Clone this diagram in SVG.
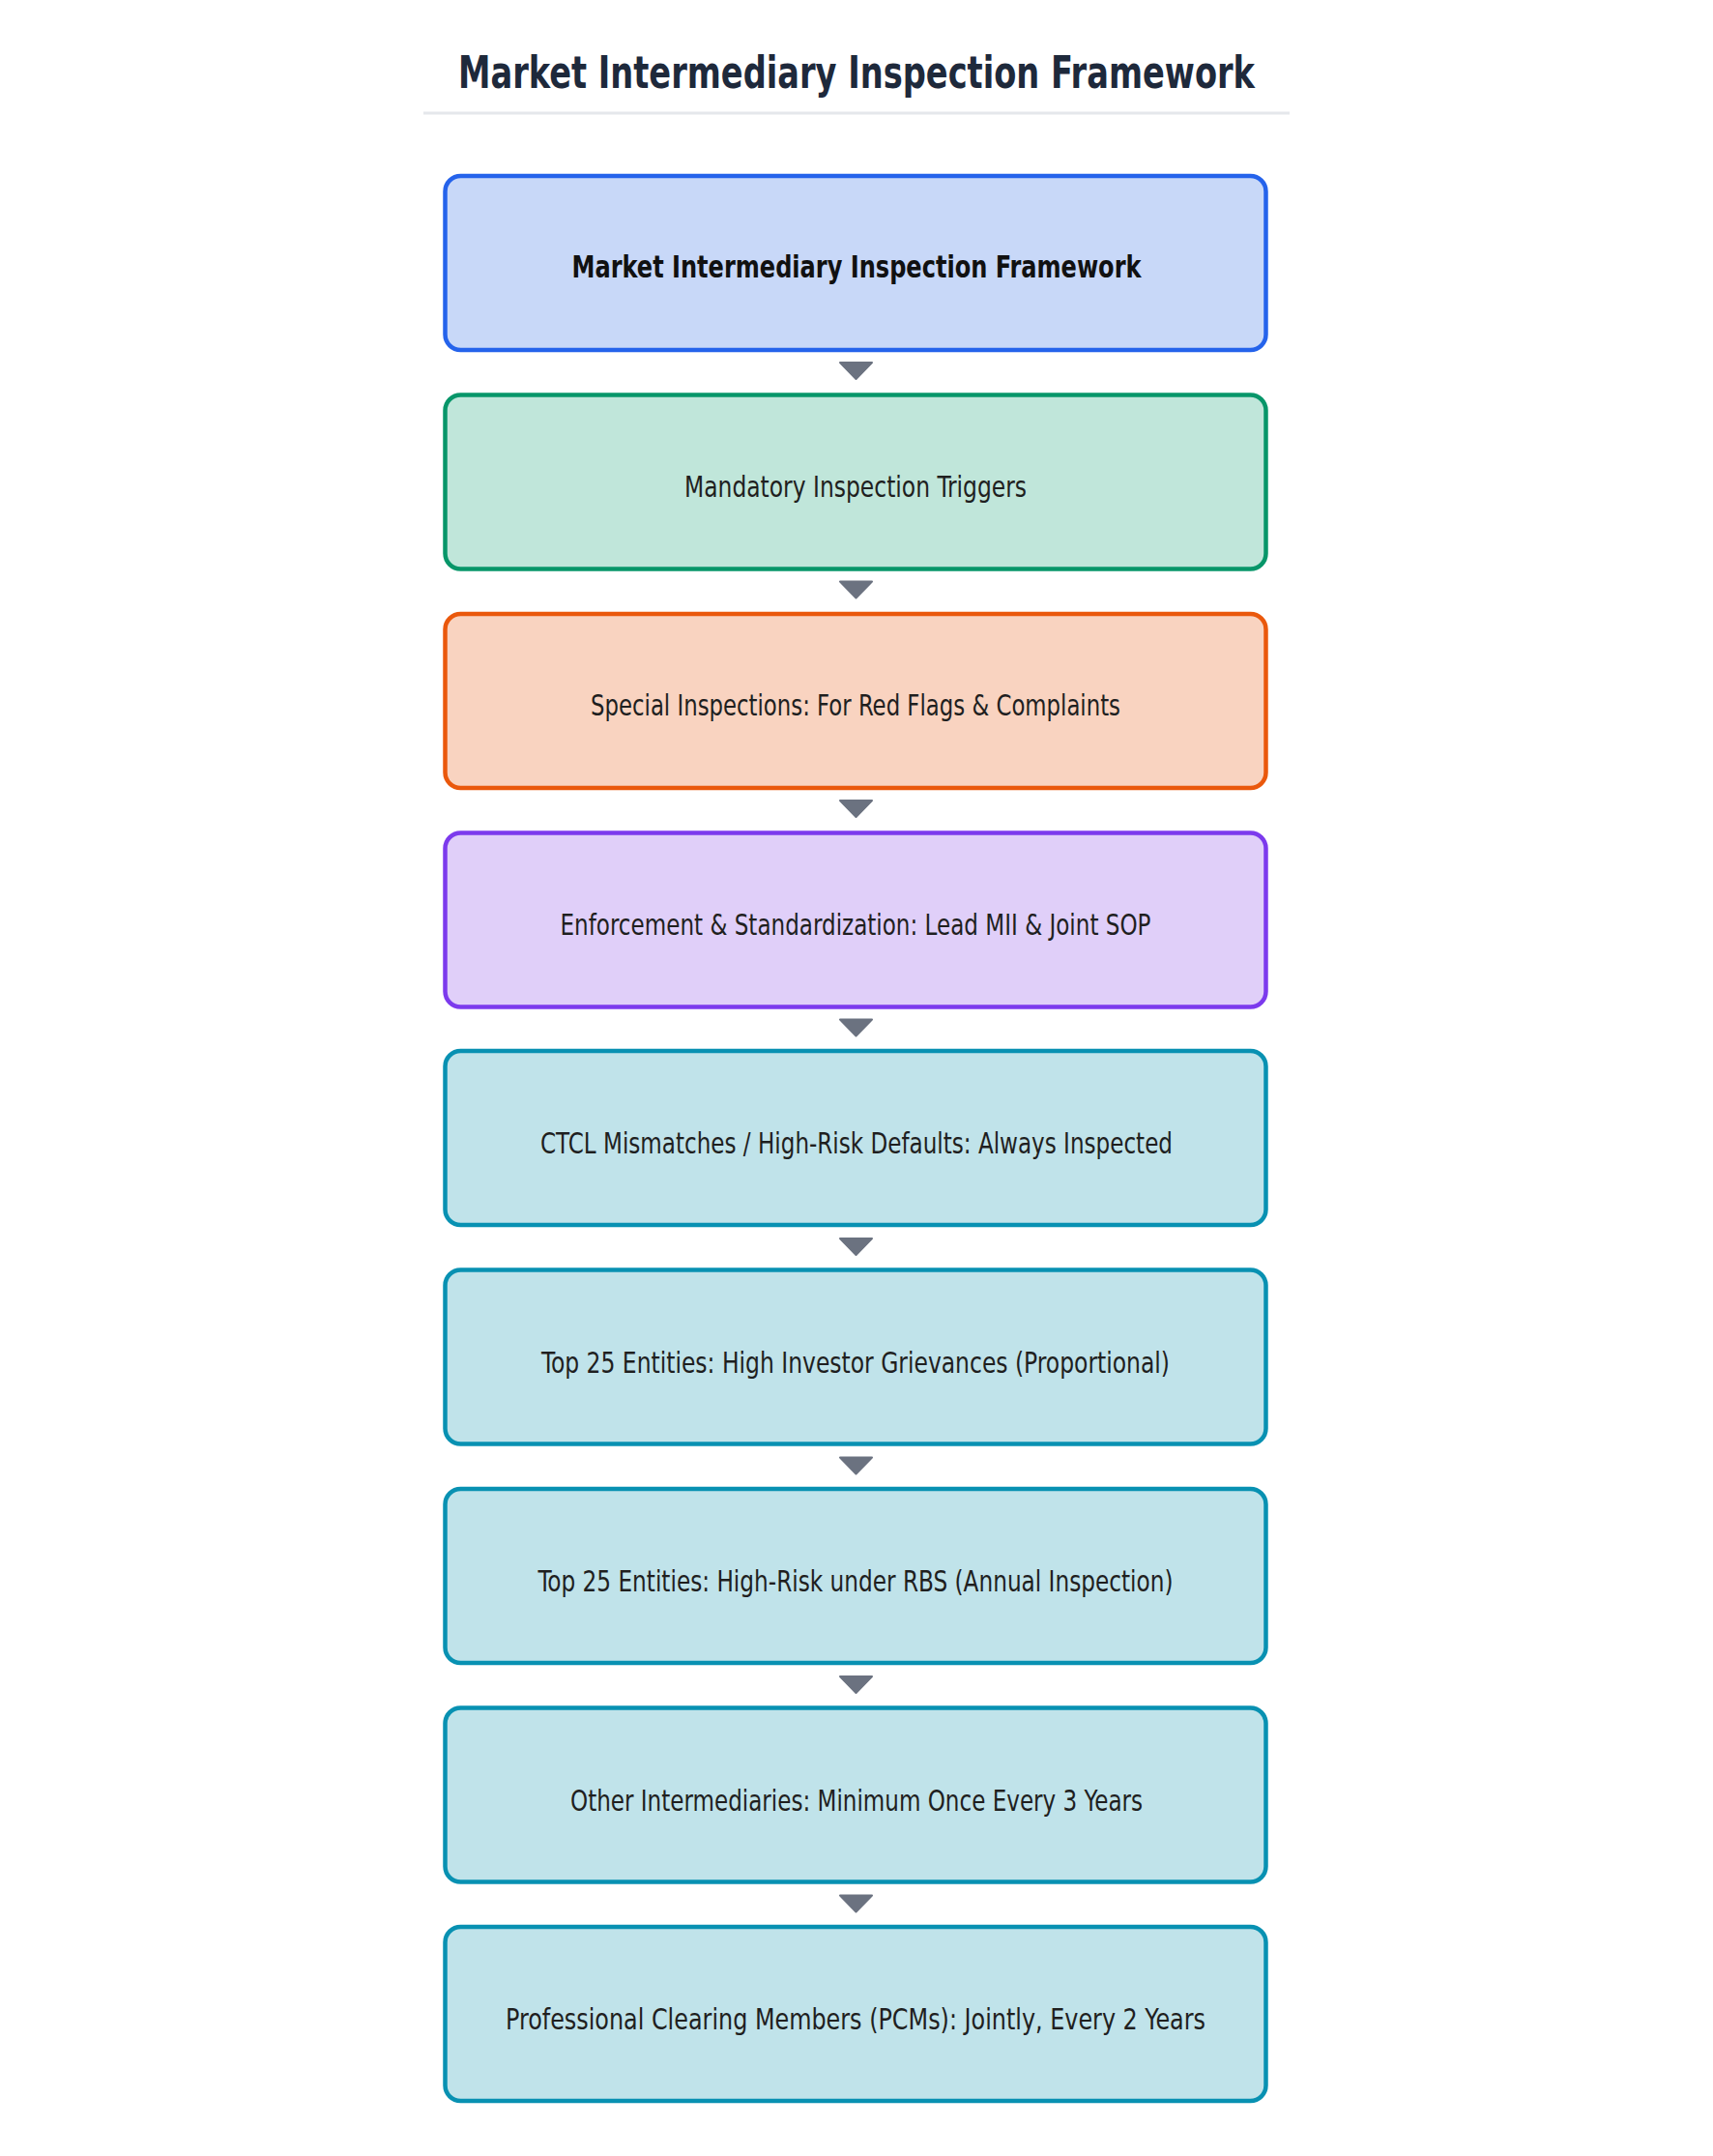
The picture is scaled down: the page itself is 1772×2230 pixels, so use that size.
<svg xmlns="http://www.w3.org/2000/svg" width="1772" height="2230" viewBox="0 0 1772 2230">
<style>
.box{stroke-width:4.5}
.t{font-family:"Liberation Sans Narrow","DejaVu Sans Condensed","Liberation Sans",sans-serif;font-size:30px;fill:#1f1f1f;text-anchor:middle}
.b{font-weight:bold;font-size:32px;fill:#111}
.title{font-family:"Liberation Sans Narrow","DejaVu Sans Condensed","Liberation Sans",sans-serif;font-weight:bold;font-size:47px;fill:#1e293b;text-anchor:middle}
.arr{fill:#6b7280;stroke:#6b7280;stroke-width:2;stroke-linejoin:round}
.c1{fill:#c8d8f8;stroke:#2563eb}
.c2{fill:#c0e6da;stroke:#079669}
.c3{fill:#f9d3c0;stroke:#ea580c}
.c4{fill:#e0cff9;stroke:#7c3aed}
.c5{fill:#c0e3ea;stroke:#0891b2}
</style>
<rect width="1772" height="2230" fill="#ffffff"/>
<g id="title">
<text class="title" x="886" y="91" textLength="824" lengthAdjust="spacingAndGlyphs">Market Intermediary Inspection Framework</text>
<line x1="438" y1="117" x2="1334" y2="117" stroke="#e5e7eb" stroke-width="3"/>
</g>
<g id="connectors">
<polygon class="arr" points="869,375 902,375 885.5,392"/>
<polygon class="arr" points="869,601.5 902,601.5 885.5,618.5"/>
<polygon class="arr" points="869,828 902,828 885.5,845"/>
<polygon class="arr" points="869,1054.5 902,1054.5 885.5,1071.5"/>
<polygon class="arr" points="869,1281 902,1281 885.5,1298"/>
<polygon class="arr" points="869,1507.5 902,1507.5 885.5,1524.5"/>
<polygon class="arr" points="869,1734 902,1734 885.5,1751"/>
<polygon class="arr" points="869,1960.5 902,1960.5 885.5,1977.5"/>
</g>
<g id="node1">
<rect class="box c1" x="460.5" y="182" width="849" height="180" rx="16"/>
<text class="t b" x="886" y="287" textLength="589" lengthAdjust="spacingAndGlyphs">Market Intermediary Inspection Framework</text>
</g>
<g id="node2">
<rect class="box c2" x="460.5" y="408.5" width="849" height="180" rx="16"/>
<text class="t" x="885" y="513.5" textLength="354" lengthAdjust="spacingAndGlyphs">Mandatory Inspection Triggers</text>
</g>
<g id="node3">
<rect class="box c3" x="460.5" y="635" width="849" height="180" rx="16"/>
<text class="t" x="885" y="740" textLength="548" lengthAdjust="spacingAndGlyphs">Special Inspections: For Red Flags &amp; Complaints</text>
</g>
<g id="node4">
<rect class="box c4" x="460.5" y="861.5" width="849" height="180" rx="16"/>
<text class="t" x="885" y="966.5" textLength="611" lengthAdjust="spacingAndGlyphs">Enforcement &amp; Standardization: Lead MII &amp; Joint SOP</text>
</g>
<g id="node5">
<rect class="box c5" x="460.5" y="1087" width="849" height="180" rx="16"/>
<text class="t" x="886" y="1193" textLength="654" lengthAdjust="spacingAndGlyphs">CTCL Mismatches / High-Risk Defaults: Always Inspected</text>
</g>
<g id="node6">
<rect class="box c5" x="460.5" y="1313.5" width="849" height="180" rx="16"/>
<text class="t" x="885" y="1419.5" textLength="650" lengthAdjust="spacingAndGlyphs">Top 25 Entities: High Investor Grievances (Proportional)</text>
</g>
<g id="node7">
<rect class="box c5" x="460.5" y="1540" width="849" height="180" rx="16"/>
<text class="t" x="885" y="1646" textLength="657" lengthAdjust="spacingAndGlyphs">Top 25 Entities: High-Risk under RBS (Annual Inspection)</text>
</g>
<g id="node8">
<rect class="box c5" x="460.5" y="1766.5" width="849" height="180" rx="16"/>
<text class="t" x="886" y="1872.5" textLength="592" lengthAdjust="spacingAndGlyphs">Other Intermediaries: Minimum Once Every 3 Years</text>
</g>
<g id="node9">
<rect class="box c5" x="460.5" y="1993" width="849" height="180" rx="16"/>
<text class="t" x="885" y="2099" textLength="724" lengthAdjust="spacingAndGlyphs">Professional Clearing Members (PCMs): Jointly, Every 2 Years</text>
</g>
</svg>
